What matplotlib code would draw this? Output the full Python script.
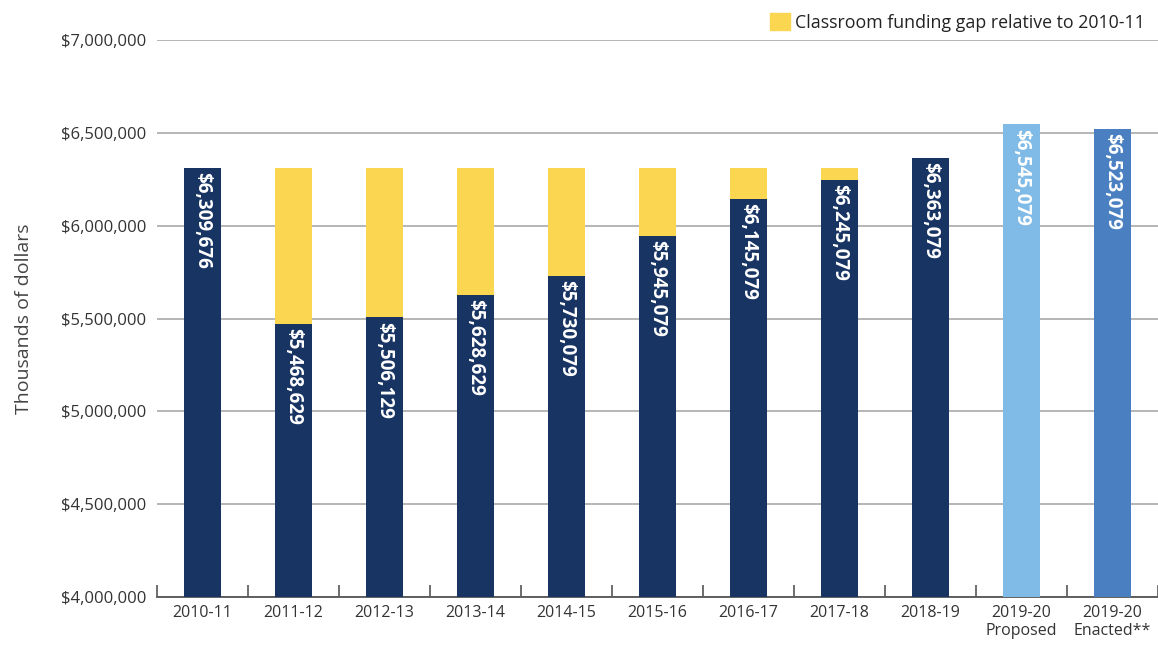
import matplotlib.pyplot as plt
from matplotlib.patches import Patch
from matplotlib.ticker import FuncFormatter, MultipleLocator

plt.rcParams['font.family'] = ['Open Sans', 'DejaVu Sans']

years = ["2010-11", "2011-12", "2012-13", "2013-14", "2014-15", "2015-16",
         "2016-17", "2017-18", "2018-19", "2019-20\nProposed", "2019-20\nEnacted**"]
funding = [6309676, 5468629, 5506129, 5628629, 5730079, 5945079,
           6145079, 6245079, 6363079, 6545079, 6523079]
baseline = 6309676  # 2010-11 level
gap_years = ["2011-12", "2012-13", "2013-14", "2014-15", "2015-16", "2016-17", "2017-18"]

navy = "#173463"
yellow = "#fbd650"
bar_colors = [navy] * 9 + ["#80bbe8", "#4a80c2"]

fig = plt.figure(figsize=(11.58, 6.45), dpi=100)
ax = fig.add_axes([0.1356, 0.0744, 0.8644, 0.8636])

x = list(range(len(years)))
ax.bar(x, funding, width=0.41, color=bar_colors, zorder=3)

gaps = [baseline - v if y in gap_years else 0 for y, v in zip(years, funding)]
ax.bar(x, gaps, width=0.41, bottom=funding, color=yellow, zorder=3)

for xi, v in zip(x, funding):
    ax.annotate(f"${v:,}", (xi, v), xytext=(0, -3), textcoords="offset points",
                rotation=270, ha="center", va="top", color="white",
                fontsize=13.5, fontweight="bold", zorder=4)

ax.set_ylim(4000000, 7000000)
ax.set_xlim(-0.5, len(years) - 0.5)
ax.yaxis.set_major_locator(MultipleLocator(500000))
ax.yaxis.set_major_formatter(FuncFormatter(lambda v, p: f"${v:,.0f}"))
ax.grid(axis="y", color="#b0b0b0", linewidth=1.3, zorder=0)
ax.tick_params(axis="y", length=0, pad=8, labelsize=12, labelcolor="#333333")

# category boundaries get tick marks, centers get the labels
ax.set_xticks([i - 0.5 for i in range(len(years) + 1)])
ax.set_xticklabels([])
ax.set_xticks(x, minor=True)
ax.set_xticklabels(years, minor=True, fontsize=11.5, color="#333333", linespacing=1.1)
ax.tick_params(axis="x", which="major", direction="in", length=8.5, width=1.2, color="#555555")
ax.tick_params(axis="x", which="minor", length=0, pad=6)

for s in ["top", "right", "left"]:
    ax.spines[s].set_visible(False)
ax.spines["bottom"].set_color("#555555")
ax.spines["bottom"].set_linewidth(1.3)

ax.set_ylabel("Thousands of dollars", fontsize=14, color="#444444", labelpad=20)

fig.legend(handles=[Patch(color=yellow, label="Classroom funding gap relative to 2010-11")],
           loc="upper right", bbox_to_anchor=(1.0, 1.0), frameon=False, fontsize=12.8,
           handlelength=1.1, handleheight=1.1, handletextpad=0.3, borderpad=0.25,
           labelcolor="#222222")

fig.savefig("out.png", dpi=100)
